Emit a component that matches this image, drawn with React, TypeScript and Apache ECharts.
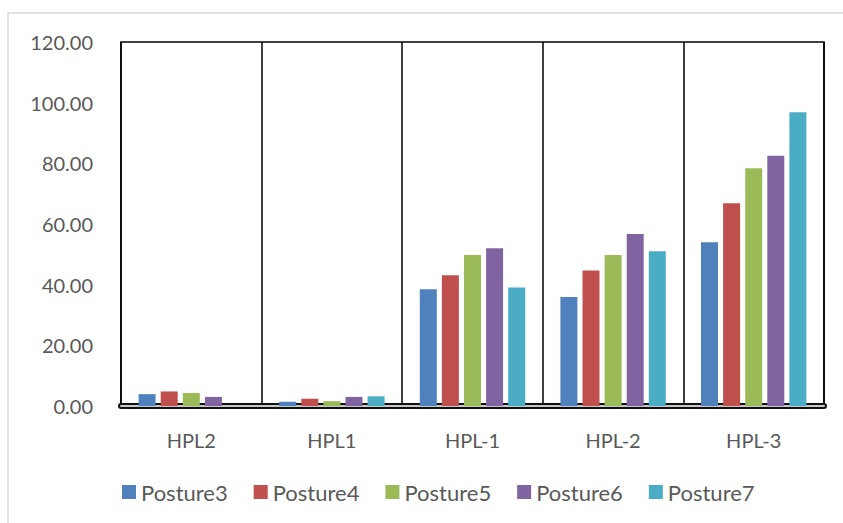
import React, { useEffect, useRef } from "react";
import * as echarts from "echarts";

const categories = ["HPL2", "HPL1", "HPL-1", "HPL-2", "HPL-3"];
const seriesNames = ["Posture3", "Posture4", "Posture5", "Posture6", "Posture7"];
const posture3 = [3.9, 1.4, 38.5, 35.9, 54.0];
const posture4 = [4.8, 2.4, 43.1, 44.7, 66.8];
const posture5 = [4.3, 1.6, 49.8, 49.8, 78.4];
const posture6 = [3.0, 3.0, 52.0, 56.7, 82.5];
const posture7 = [0, 3.2, 39.1, 51.0, 96.8];
const colors = ["#4F81BD", "#C0504D", "#9BBB59", "#8064A2", "#4BACC6"];

export default function App() {
  const ref = useRef<HTMLDivElement>(null);
  useEffect(() => {
    if (!ref.current) return;
    const chart = echarts.init(ref.current, undefined, { renderer: "svg" });
    const allData = [posture3, posture4, posture5, posture6, posture7];
    const font = "Lato, 'Open Sans', sans-serif";
    chart.setOption({
      animation: false,
      backgroundColor: "#ffffff",
      color: colors,
      textStyle: { fontFamily: font },
      graphic: [
        {
          type: "rect",
          shape: { x: 8, y: 13, width: 900, height: 600 },
          style: { fill: "none", stroke: "#d9d9d9", lineWidth: 1.5 },
          silent: true,
        },
      ],
      grid: {
        left: 121,
        right: 19,
        top: 42,
        bottom: 117,
        show: true,
        borderColor: "#000",
        borderWidth: 1.5,
        backgroundColor: "transparent",
      },
      legend: {
        top: 476,
        left: 117,
        icon: "rect",
        itemWidth: 14,
        itemHeight: 14,
        itemGap: 26,
        textStyle: { color: "#595959", fontSize: 22, fontFamily: font },
        data: seriesNames,
      },
      xAxis: [
        {
          type: "category",
          data: categories,
          axisTick: { show: false },
          axisLine: {
            show: true,
            lineStyle: { color: "#111", width: 6 },
          },
          splitLine: {
            show: true,
            interval: 0,
            lineStyle: { color: "#000", width: 1.5 },
          },
          axisLabel: { color: "#595959", fontSize: 20, margin: 24, fontFamily: font },
        },
        {
          type: "category",
          data: categories,
          position: "bottom",
          axisTick: { show: false },
          axisLabel: { show: false },
          splitLine: { show: false },
          axisLine: {
            show: true,
            lineStyle: { color: "#c8c8c8", width: 2 },
          },
        },
      ],
      yAxis: {
        type: "value",
        min: 0,
        max: 120,
        interval: 20,
        axisLine: { show: false },
        axisTick: { show: false },
        splitLine: { show: false },
        axisLabel: {
          color: "#595959",
          fontSize: 20,
          margin: 28,
          fontFamily: font,
          formatter: (v: number) => v.toFixed(2),
        },
      },
      series: seriesNames.map((name, i) => ({
        name,
        type: "bar",
        xAxisIndex: 0,
        data: allData[i],
        barWidth: 17,
        barGap: "30%",
        itemStyle: { color: colors[i] },
      })),
    });
    return () => chart.dispose();
  }, []);
  return (
    <div
      ref={ref}
      style={{ position: "fixed", left: 0, top: 0, width: 843, height: 523 }}
    />
  );
}
